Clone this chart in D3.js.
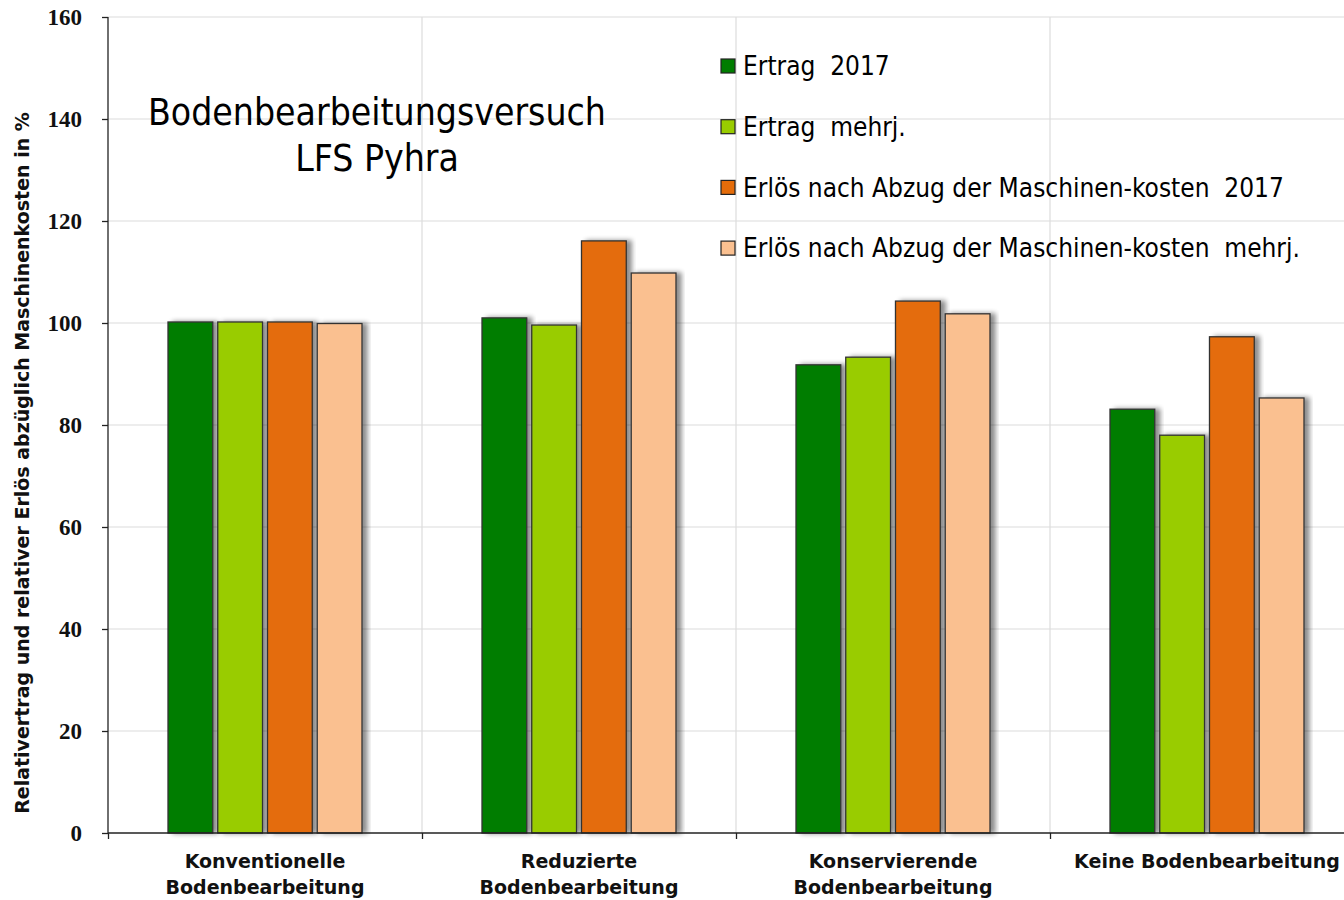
<!DOCTYPE html>
<html>
<head>
<meta charset="utf-8">
<script src="https://cdn.jsdelivr.net/npm/d3@7"></script>
<style>
  body { margin: 0; background: #fff; }
  svg { display: block; }
  text { white-space: pre; }
</style>
</head>
<body>
<svg id="chart" width="1344" height="900"></svg>
<script>
// categories and series
const categories = [
  ["Konventionelle", "Bodenbearbeitung"],
  ["Reduzierte", "Bodenbearbeitung"],
  ["Konservierende", "Bodenbearbeitung"],
  ["Keine Bodenbearbeitung"]
];
const seriesNames = [
  "Ertrag  2017",
  "Ertrag  mehrj.",
  "Erlös nach Abzug der Maschinen-kosten  2017",
  "Erlös nach Abzug der Maschinen-kosten  mehrj."
];
const seriesColors = ["#007d00", "#99cc00", "#e46c0a", "#fac090"];
const ertrag2017 = [100.2, 101.0, 91.8, 83.1];
const ertragMehrj = [100.2, 99.6, 93.3, 78.0];
const erloes2017 = [100.2, 116.1, 104.3, 97.3];
const erloesMehrj = [99.9, 109.8, 101.8, 85.3];
const yTicks = [0, 20, 40, 60, 80, 100, 120, 140, 160];

const values = [ertrag2017, ertragMehrj, erloes2017, erloesMehrj];

const margin = {left: 108, top: 17};
const plotW = 1256, plotH = 816;
const sans = "Tahoma, 'DejaVu Sans Condensed', 'DejaVu Sans', sans-serif";
const sansBold = "Verdana, 'DejaVu Sans', sans-serif";

const svg = d3.select("#chart");

const defs = svg.append("defs");
const f = defs.append("filter").attr("id", "shadow")
  .attr("x", "-10%").attr("y", "-5%").attr("width", "130%").attr("height", "110%");
f.append("feGaussianBlur").attr("in", "SourceAlpha").attr("stdDeviation", 2.5);
f.append("feOffset").attr("dx", 5).attr("dy", 0).attr("result", "b");
f.append("feComponentTransfer").append("feFuncA").attr("type", "linear").attr("slope", 0.45);
const m = f.append("feMerge");
m.append("feMergeNode");
m.append("feMergeNode").attr("in", "SourceGraphic");

const x = d3.scaleBand().domain(d3.range(categories.length)).range([0, plotW]);
const xs = d3.scaleBand().domain(d3.range(seriesNames.length))
  .range([60, x.bandwidth() - 60]).paddingInner(0.1);
const y = d3.scaleLinear().domain([0, 160]).range([plotH, 0]);

const g = svg.append("g").attr("transform", `translate(${margin.left},${margin.top})`);

// grid
g.append("g").selectAll("line").data(yTicks.slice(1)).join("line")
  .attr("x1", 0).attr("x2", plotW)
  .attr("y1", d => y(d)).attr("y2", d => y(d))
  .attr("stroke", "#dcdcdc").attr("stroke-width", 1.2);
g.append("g").selectAll("line").data(d3.range(1, categories.length)).join("line")
  .attr("x1", d => x(d)).attr("x2", d => x(d))
  .attr("y1", 0).attr("y2", plotH)
  .attr("stroke", "#dcdcdc").attr("stroke-width", 1.2);

// bars
const groups = g.append("g").selectAll("g").data(categories).join("g")
  .attr("transform", (d, i) => `translate(${x(i)},0)`);
groups.selectAll("rect").data((d, i) => values.map((s, k) => ({k, v: s[i]}))).join("rect")
  .attr("x", d => xs(d.k))
  .attr("y", d => y(d.v))
  .attr("width", xs.bandwidth())
  .attr("height", d => plotH - y(d.v))
  .attr("fill", d => seriesColors[d.k])
  .attr("stroke", "#333")
  .attr("stroke-width", 1.3)
  .attr("filter", "url(#shadow)");

// y axis
const yAxis = g.append("g").call(d3.axisLeft(y).tickValues(yTicks).tickSize(6).tickPadding(20));
yAxis.select(".domain").attr("stroke", "#222").attr("stroke-width", 1.3).attr("d", `M0,0V${plotH}`);
yAxis.selectAll(".tick line").attr("stroke", "#222").attr("stroke-width", 1.3);
yAxis.selectAll(".tick text")
  .attr("font-family", "'Liberation Serif', 'DejaVu Serif', serif")
  .attr("font-weight", "bold").attr("font-size", 23).attr("fill", "#111")
  .attr("dy", "0.33em");

// x axis
const xAxis = g.append("g").attr("transform", `translate(0,${plotH})`)
  .call(d3.axisBottom(d3.scaleLinear().domain([0, categories.length]).range([0, plotW]))
    .tickValues(d3.range(categories.length + 1)).tickSize(6).tickFormat(""));
xAxis.select(".domain").attr("stroke", "#222").attr("stroke-width", 1.3).attr("d", `M0,0H${plotW}`);
xAxis.selectAll(".tick line").attr("stroke", "#222").attr("stroke-width", 1.3);

const xl = g.append("g").selectAll("text").data(categories).join("text")
  .attr("x", (d, i) => x(i) + x.bandwidth() / 2)
  .attr("y", plotH + 35)
  .attr("text-anchor", "middle")
  .attr("font-family", sansBold).attr("font-weight", "bold").attr("font-size", 19).attr("fill", "#111");
xl.selectAll("tspan").data(d => d).join("tspan")
  .attr("x", function() { return this.parentNode.getAttribute("x"); })
  .attr("dy", (d, i) => i ? 26 : 0)
  .text(d => d);

// y title
svg.append("text")
  .attr("transform", `translate(29,463) rotate(-90)`)
  .attr("text-anchor", "middle")
  .attr("font-family", sansBold).attr("font-weight", "bold").attr("font-size", 19).attr("fill", "#111")
  .text("Relativertrag und relativer Erlös abzüglich Maschinenkosten in %");

// chart title
svg.append("text")
  .attr("x", 377).attr("y", 125).attr("text-anchor", "middle")
  .attr("font-family", sans).attr("font-size", 37).attr("fill", "#000")
  .selectAll("tspan").data(["Bodenbearbeitungsversuch", "LFS Pyhra"]).join("tspan")
  .attr("x", 377).attr("dy", (d, i) => i ? 46 : 0).text(d => d);

// legend
const leg = svg.append("g").selectAll("g").data(seriesNames).join("g")
  .attr("transform", (d, i) => `translate(721,${66 + i * 60.7})`);
leg.append("rect").attr("x", 0).attr("y", -7).attr("width", 14).attr("height", 14)
  .attr("fill", (d, i) => seriesColors[i]).attr("stroke", "#222").attr("stroke-width", 1.2);
leg.append("text").attr("x", 22).attr("dy", "0.36em")
  .attr("font-family", sans).attr("font-size", 26).attr("fill", "#000")
  .text(d => d);
</script>
</body>
</html>
